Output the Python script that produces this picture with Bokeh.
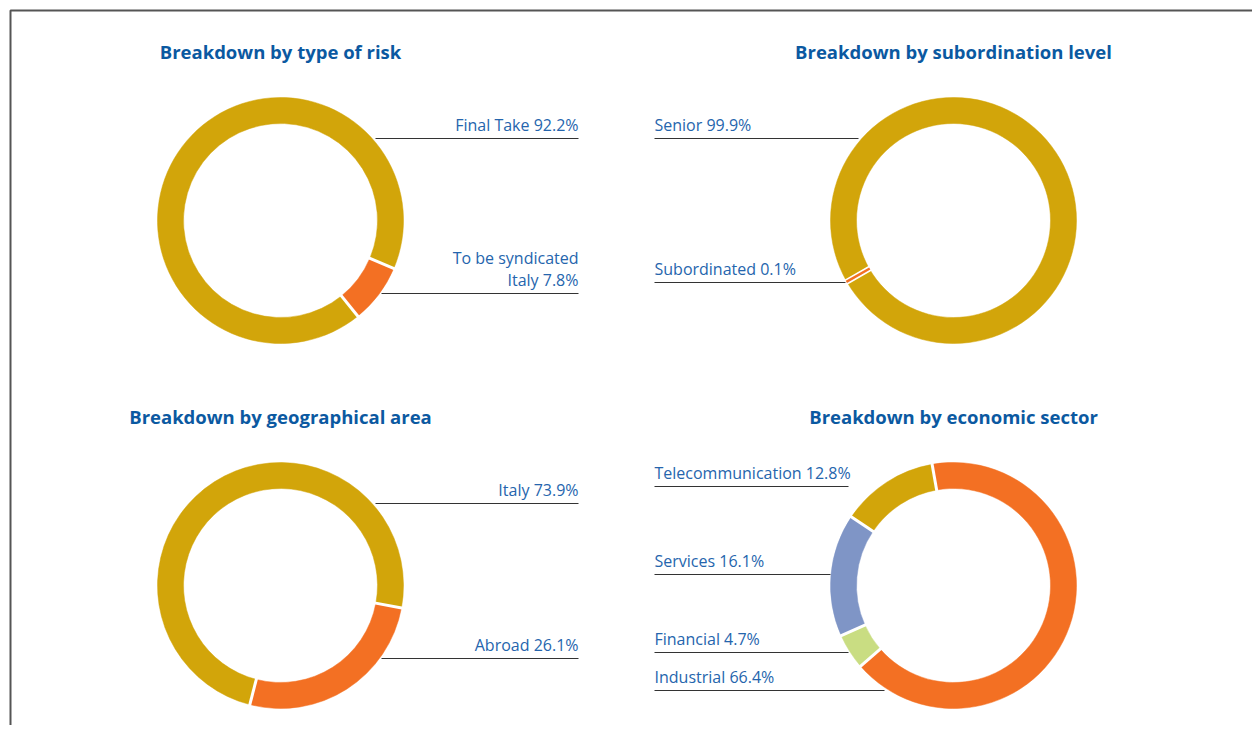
import numpy as np
from bokeh.plotting import figure
from bokeh.models import Range1d, ColumnDataSource
from bokeh.core.properties import value
from bokeh.embed import file_html
from bokeh.resources import INLINE

# ---------------- data ----------------
titles = ["Breakdown by type of risk", "Breakdown by subordination level",
          "Breakdown by geographical area", "Breakdown by economic sector"]

risk_labels = ["Final Take", "To be syndicated\nItaly"]
risk_values = [92.2, 7.8]

subord_labels = ["Senior", "Subordinated"]
subord_values = [99.9, 0.1]

geo_labels = ["Italy", "Abroad"]
geo_values = [73.9, 26.1]

sector_labels = ["Telecommunication", "Services", "Financial", "Industrial"]
sector_values = [12.8, 16.1, 4.7, 66.4]

# ---------------- style / layout ----------------
GOLD, ORANGE, BLUE, GREEN = "#d2a50a", "#f37023", "#7f95c6", "#c9dd82"
TITLE_C, LABEL_C, LINE_C = "#0b59a1", "#2565ad", "#333333"
FONT = "Open Sans"
H = 733

charts = [
    dict(labels=risk_labels, values=risk_values, colors=[GOLD, ORANGE],
         cx=280, cy=220, start=-23, side="right",
         line_y=[138, 293], line_in=[375, 381], line_out=578, title_y=51),
    dict(labels=subord_labels, values=subord_values, colors=[GOLD, ORANGE],
         cx=953, cy=220, start=210, side="left",
         line_y=[138, 282], line_in=[858, 845], line_out=654, title_y=51),
    dict(labels=geo_labels, values=geo_values, colors=[GOLD, ORANGE],
         cx=280, cy=585, start=-10.5, side="right",
         line_y=[503, 658], line_in=[375, 381], line_out=578, title_y=416),
    dict(labels=sector_labels, values=sector_values, colors=[GOLD, BLUE, GREEN, ORANGE],
         cx=953, cy=585, start=100, side="left",
         line_y=[486, 574, 652, 690], line_in=[848, 830, 848, 884], line_out=654, title_y=416),
]
R_OUT, R_IN = 123, 97

p = figure(width=1252, height=725, x_range=Range1d(0, 1252), y_range=Range1d(H - 725, H),
           output_backend="svg", toolbar_location=None, min_border=0)
p.axis.visible = False
p.grid.visible = False
p.outline_line_color = None
p.background_fill_color = "white"

# frame border
p.line(x=[10, 10, 1252], y=[0, H - 10, H - 10], line_color="#555555", line_width=2)

for i, c in enumerate(charts):
    vals = np.array(c["values"], dtype=float)
    frac = vals / vals.sum()
    ang = np.deg2rad(c["start"]) + np.concatenate([[0], np.cumsum(frac)]) * 2 * np.pi
    src = ColumnDataSource(dict(start=ang[:-1], end=ang[1:], color=c["colors"]))
    p.annular_wedge(x=c["cx"], y=H - c["cy"], inner_radius=R_IN, outer_radius=R_OUT,
                    start_angle="start", end_angle="end", fill_color="color",
                    line_color="color", line_width=0.5, source=src)
    # white separators
    sep_w = 5 if frac.min() < 0.005 else 3
    b = ang[:-1]
    p.segment(x0=c["cx"] + (R_IN - 3) * np.cos(b), y0=H - c["cy"] + (R_IN - 3) * np.sin(b),
              x1=c["cx"] + (R_OUT + 3) * np.cos(b), y1=H - c["cy"] + (R_OUT + 3) * np.sin(b),
              line_color="white", line_width=sep_w)
    # tiny slices kept visible
    for k, f in enumerate(frac):
        if f < 0.005:
            m = (ang[k] + ang[k + 1]) / 2
            p.segment(x0=c["cx"] + (R_IN - 0.5) * np.cos(m), y0=H - c["cy"] + (R_IN - 0.5) * np.sin(m),
                      x1=c["cx"] + (R_OUT + 0.5) * np.cos(m), y1=H - c["cy"] + (R_OUT + 0.5) * np.sin(m),
                      line_color=c["colors"][k], line_width=2.5)
    # title
    p.text(x=[c["cx"]], y=[H - c["title_y"]], text=[titles[i]], text_align="center",
           text_baseline="middle", text_font=value(FONT), text_font_style="bold",
           text_font_size="18.5px", text_color=TITLE_C)
    # leader lines + labels
    texts = [f"{l} {v:.1f}%" for l, v in zip(c["labels"], c["values"])]
    ly = [H - y for y in c["line_y"]]
    p.segment(x0=c["line_in"], y0=ly, x1=[c["line_out"]] * len(ly), y1=ly,
              line_color=LINE_C, line_width=1)
    p.text(x=[c["line_out"]] * len(ly), y=[y + 3 for y in ly], text=texts,
           text_align="right" if c["side"] == "right" else "left",
           text_baseline="bottom", text_font=value(FONT), text_font_size="16px",
           text_color=LABEL_C, text_line_height=1.0)

open("out.html", "w").write(file_html(p, INLINE))
